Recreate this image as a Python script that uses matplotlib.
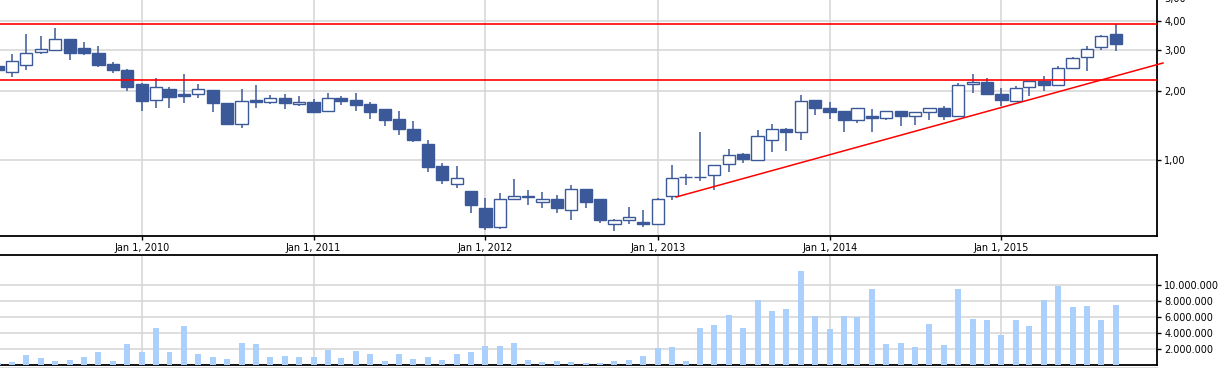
import matplotlib
matplotlib.use('Agg')
import matplotlib.pyplot as plt
import matplotlib.dates as mdates
import matplotlib.ticker as mticker
from matplotlib.lines import Line2D
import pandas as pd

# monthly candles, Mar 2009 .. Sep 2015
months = pd.date_range('2009-03-01', periods=79, freq='MS')

opens = [2.55, 2.40, 2.57, 2.93, 2.98, 3.33, 3.04, 2.91, 2.61, 2.46,
         2.14, 1.82, 2.03, 1.93, 1.93, 2.01, 1.77, 1.43, 1.82, 1.78,
         1.85, 1.75, 1.78, 1.63, 1.86, 1.82, 1.75, 1.67, 1.51, 1.37,
         1.18, 0.945, 0.79, 0.74, 0.62, 0.517, 0.68, 0.70, 0.663, 0.68,
         0.61, 0.75, 0.68, 0.529, 0.551, 0.54, 0.529, 0.70, 0.847, 0.847,
         0.861, 0.961, 1.06, 1.007, 1.22, 1.37, 1.32, 1.82, 1.69, 1.63,
         1.50, 1.56, 1.53, 1.63, 1.56, 1.61, 1.69, 1.56, 2.13, 2.17,
         1.93, 1.81, 2.07, 2.19, 2.12, 2.51, 2.78, 3.08, 3.51]
highs = [2.58, 2.88, 3.51, 3.44, 3.73, 3.34, 3.24, 3.12, 2.66, 2.48,
         2.15, 2.27, 2.07, 2.36, 2.14, 2.01, 1.77, 2.03, 2.12, 1.91,
         1.93, 1.90, 1.84, 1.95, 1.90, 1.95, 1.79, 1.67, 1.63, 1.48,
         1.23, 0.97, 0.945, 0.74, 0.69, 0.72, 0.83, 0.745, 0.73, 0.71,
         0.785, 0.755, 0.68, 0.556, 0.63, 0.61, 0.685, 0.955, 0.873, 1.325,
         0.952, 1.12, 1.08, 1.35, 1.435, 1.375, 1.91, 1.82, 1.79, 1.63,
         1.69, 1.67, 1.63, 1.63, 1.61, 1.69, 1.71, 2.15, 2.36, 2.26,
         2.05, 2.09, 2.19, 2.31, 2.55, 2.79, 3.12, 3.49, 3.88]
lows = [2.44, 2.30, 2.46, 2.89, 2.95, 2.71, 2.85, 2.54, 2.39, 2.00,
        1.64, 1.69, 1.69, 1.76, 1.85, 1.61, 1.43, 1.38, 1.69, 1.75,
        1.67, 1.71, 1.62, 1.61, 1.74, 1.64, 1.51, 1.40, 1.28, 1.20,
        0.89, 0.79, 0.76, 0.59, 0.50, 0.507, 0.68, 0.64, 0.625, 0.595,
        0.55, 0.625, 0.538, 0.497, 0.529, 0.517, 0.529, 0.676, 0.785, 0.817,
        0.747, 0.891, 0.977, 0.997, 1.09, 1.10, 1.22, 1.57, 1.51, 1.32,
        1.45, 1.32, 1.49, 1.41, 1.425, 1.50, 1.50, 1.56, 1.96, 1.94,
        1.72, 1.79, 1.90, 2.00, 2.12, 2.49, 2.44, 3.00, 2.95]
closes = [2.46, 2.68, 2.90, 3.01, 3.33, 2.92, 2.92, 2.59, 2.46, 2.08,
          1.81, 2.07, 1.88, 1.90, 2.03, 1.76, 1.44, 1.80, 1.79, 1.85,
          1.76, 1.78, 1.62, 1.85, 1.81, 1.74, 1.62, 1.50, 1.36, 1.23,
          0.94, 0.825, 0.835, 0.64, 0.517, 0.68, 0.705, 0.697, 0.68, 0.625,
          0.75, 0.663, 0.55, 0.551, 0.567, 0.529, 0.68, 0.836, 0.845, 0.845,
          0.952, 1.05, 1.01, 1.27, 1.37, 1.32, 1.80, 1.69, 1.62, 1.50,
          1.69, 1.53, 1.63, 1.56, 1.61, 1.69, 1.56, 2.11, 2.17, 1.94,
          1.83, 2.045, 2.19, 2.12, 2.50, 2.76, 3.01, 3.43, 3.19]

# volume in millions
volumes = [0.29, 0.41, 1.28, 0.91, 0.54, 0.66, 1.03, 1.65, 0.54, 2.64,
           1.65, 4.63, 1.65, 4.88, 1.40, 1.03, 0.79, 2.77, 2.64, 1.03,
           1.16, 1.03, 1.03, 1.94, 0.91, 1.78, 1.40, 0.54, 1.40, 0.79,
           1.03, 0.66, 1.40, 1.65, 2.40, 2.40, 2.77, 0.66, 0.41, 0.54,
           0.41, 0.29, 0.29, 0.54, 0.66, 1.16, 2.15, 2.27, 0.54, 4.63,
           5.00, 6.24, 4.63, 8.22, 6.74, 6.98, 11.82, 6.12, 4.50, 6.12,
           5.99, 9.59, 2.64, 2.77, 2.27, 5.12, 2.52, 9.59, 5.74, 5.62,
           3.76, 5.62, 4.88, 8.22, 9.96, 7.23, 7.36, 5.62, 7.60]

# resistance levels and trend line
levels = [3.865, 2.215]
trend_dates = ['2013-02-09', '2015-12-10']
trend_values = [0.6945, 2.631]

year_ticks = pd.date_range('2010-01-01', periods=6, freq='YS')

blue = '#3b5998'
vol_color = '#aad0fb'
grid_color = '#d4d4d4'

plt.rcParams['font.family'] = ['DejaVu Sans']
plt.rcParams['font.size'] = 7

fig = plt.figure(figsize=(12.2, 3.68), dpi=100)
W, H = 1220.0, 368.0
right = 1157.3 / W
ax = fig.add_axes([0, (H - 236.3) / H, right, 237.9 / H])
axv = fig.add_axes([0, (H - 365.3) / H, right, 110.0 / H], sharex=ax)

x = mdates.date2num(months)
x0 = mdates.date2num(pd.Timestamp('2010-01-01'))

# candles
ax.vlines(x, lows, highs, color=blue, lw=1.1, zorder=3)
bottoms = [min(o, c) for o, c in zip(opens, closes)]
heights = [max(abs(c - o), 0.004) for o, c in zip(opens, closes)]
faces = ['white' if c > o else blue for o, c in zip(opens, closes)]
ax.bar(x, heights, bottom=bottoms, width=26, color=faces,
       edgecolor=blue, linewidth=1.0, zorder=4)

for lv in levels:
    ax.axhline(lv, color='red', lw=1.2, zorder=5)
ax.plot(mdates.date2num(pd.to_datetime(trend_dates)), trend_values,
        color='red', lw=1.1, zorder=5, clip_on=False)

ax.set_yscale('log')
ax.set_ylim(0.47, 5.0)
ax.set_xlim(x0 - 301, x0 + 2157)
ax.yaxis.set_major_locator(mticker.FixedLocator([1, 2, 3, 4, 5]))
ax.yaxis.set_minor_locator(mticker.NullLocator())
ax.yaxis.set_major_formatter(mticker.FuncFormatter(
    lambda v, p: f'{v:.2f}'.replace('.', ',')))
ax.yaxis.tick_right()
ax.set_xticks(mdates.date2num(year_ticks))
ax.set_xticklabels([f'Jan 1, {d.year}' for d in year_ticks])
ax.tick_params(axis='both', length=3, width=1, direction='out', pad=2,
               colors='black')
ax.grid(True, color=grid_color, lw=1.1)
ax.set_axisbelow(True)
for s in ['top', 'left']:
    ax.spines[s].set_visible(False)
for s in ['bottom', 'right']:
    ax.spines[s].set_linewidth(1.3)

# volume
axv.bar(x, [v * 1e6 for v in volumes], width=12.7, color=vol_color, zorder=3)
axv.set_ylim(0, 13.75e6)
axv.yaxis.set_major_locator(mticker.FixedLocator([2e6, 4e6, 6e6, 8e6, 10e6]))
axv.yaxis.set_major_formatter(mticker.FuncFormatter(
    lambda v, p: f'{int(v):,}'.replace(',', '.')))
axv.yaxis.tick_right()
axv.tick_params(axis='y', length=3, width=1, direction='out', pad=2)
axv.tick_params(axis='x', length=0, labelbottom=False)
axv.grid(True, color=grid_color, lw=1.1)
axv.set_axisbelow(True)
axv.spines['left'].set_visible(False)
for s in ['bottom', 'right', 'top']:
    axv.spines[s].set_linewidth(1.3)

# second thin line under the volume panel
fig.add_artist(Line2D([0, right], [(H - 367.6) / H] * 2,
                      transform=fig.transFigure, color='black', lw=0.9))

fig.savefig('out.png', dpi=100)
